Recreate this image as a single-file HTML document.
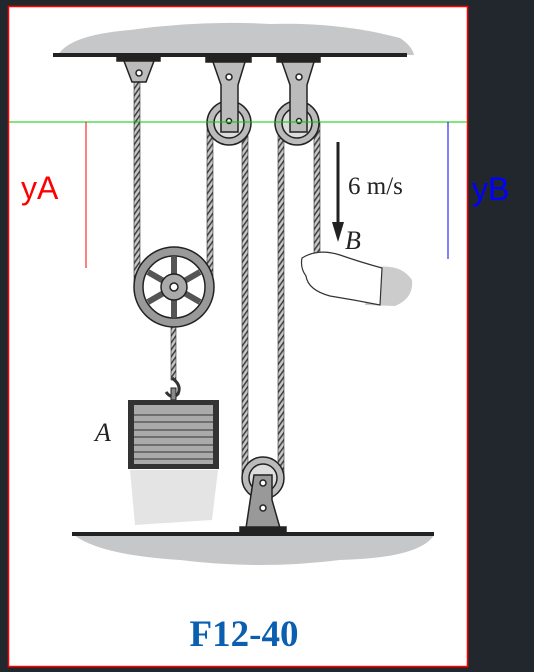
<!DOCTYPE html>
<html><head><meta charset="utf-8"><style>
html,body{margin:0;padding:0;background:#22272e;width:534px;height:672px;overflow:hidden}
svg{display:block}
</style></head><body>
<svg width="534" height="672" viewBox="0 0 534 672">
<defs>
<pattern id="rope" width="4" height="4" patternUnits="userSpaceOnUse" patternTransform="rotate(35)">
<rect width="4" height="4" fill="#c8c8c8"/><rect width="1.6" height="4" fill="#444"/></pattern>
</defs>
<rect x="0" y="0" width="534" height="672" fill="#22272e"/>
<rect x="8.5" y="6.5" width="459" height="660" fill="#fff" stroke="#f00" stroke-width="1.5"/>
<path d="M58 55 Q70 35 130 30 Q200 20 270 24 Q340 22 400 38 Q412 46 414 55 Z" fill="#c6c7c9"/>
<rect x="53" y="53" width="354" height="4" fill="#222"/>
<path d="M74 535 L434 535 Q420 558 340 560 Q260 570 180 560 Q100 555 74 535 Z" fill="#c6c7c9"/>
<rect x="72" y="532" width="362" height="4" fill="#222"/>
<g stroke="#333" stroke-width="0.6">
<rect x="134" y="80" width="6" height="205" fill="url(#rope)"/>
<rect x="207" y="122" width="6" height="165" fill="url(#rope)"/>
<rect x="242" y="122" width="6" height="356" fill="url(#rope)"/>
<rect x="278" y="122" width="6" height="356" fill="url(#rope)"/>
<rect x="314" y="122" width="6" height="136" fill="url(#rope)"/>
<rect x="171" y="290" width="5" height="90" fill="url(#rope)"/>
</g>
<g stroke="#222" stroke-width="1.5">
<rect x="117" y="57" width="43" height="4" fill="#222"/>
<path d="M124 61 L154 61 L146 82 L132 82 Z" fill="#bbb"/>
<circle cx="139" cy="73" r="3" fill="#fff"/>
</g>
<g stroke="#222" stroke-width="1.5">
<rect x="206" y="57" width="45" height="5" fill="#222"/>
<circle cx="229" cy="123" r="22" fill="#bbb"/><circle cx="229" cy="123" r="15" fill="#ddd"/>
<path d="M213 62 L245 62 L238 85 L238 132 L221 132 L221 85 Z" fill="#bbb"/>
<circle cx="229" cy="77" r="3" fill="#fff"/><circle cx="229" cy="121" r="2.5" fill="#fff"/>
</g>
<g stroke="#222" stroke-width="1.5">
<rect x="277" y="57" width="43" height="5" fill="#222"/>
<circle cx="297" cy="123" r="22" fill="#bbb"/><circle cx="297" cy="123" r="15" fill="#ddd"/>
<path d="M282 62 L314 62 L307 85 L307 132 L290 132 L290 85 Z" fill="#bbb"/>
<circle cx="299" cy="77" r="3" fill="#fff"/><circle cx="299" cy="121" r="2.5" fill="#fff"/>
</g>
<g stroke="#222" stroke-width="1.5">
<circle cx="174" cy="287" r="40" fill="#999"/>
<circle cx="174" cy="287" r="31" fill="#fff"/>
<g stroke="#555" stroke-width="6">
<line x1="174" y1="287" x2="174" y2="257"/><line x1="174" y1="287" x2="200" y2="272"/><line x1="174" y1="287" x2="200" y2="302"/>
<line x1="174" y1="287" x2="174" y2="317"/><line x1="174" y1="287" x2="148" y2="302"/><line x1="174" y1="287" x2="148" y2="272"/>
</g>
<circle cx="174" cy="287" r="13" fill="#aaa"/><circle cx="174" cy="287" r="4" fill="#fff"/>
</g>
<path d="M172 378 Q182 385 178 394 Q172 400 166 392" fill="none" stroke="#333" stroke-width="3"/>
<rect x="171" y="388" width="5" height="12" fill="#888" stroke="#222"/>
<path d="M130 470 L218 470 L212 520 L135 525 Z" fill="#e4e4e4"/>
<g>
<rect x="128" y="400" width="91" height="69" fill="#333"/>
<rect x="134" y="405" width="79" height="59" fill="#aaa"/>
<g stroke="#333" stroke-width="1">
<line x1="134" y1="415" x2="213" y2="415"/><line x1="134" y1="422" x2="213" y2="422"/><line x1="134" y1="430" x2="213" y2="430"/>
<line x1="134" y1="437" x2="213" y2="437"/><line x1="134" y1="445" x2="213" y2="445"/><line x1="134" y1="452" x2="213" y2="452"/><line x1="134" y1="459" x2="213" y2="459"/>
</g></g>
<text x="95" y="441" font-family="Liberation Serif, serif" font-style="italic" font-size="26" fill="#222">A</text>
<g stroke="#222" stroke-width="1.5">
<circle cx="263" cy="478" r="21" fill="#bbb"/><circle cx="263" cy="478" r="14" fill="#ddd"/>
<path d="M254 475 L272 475 L272 500 L280 528 L246 528 Z" fill="#999"/>
<rect x="240" y="527" width="46" height="6" fill="#222"/>
<circle cx="263" cy="483" r="3" fill="#fff"/><circle cx="263" cy="508" r="3" fill="#fff"/>
</g>
<g stroke="#333" stroke-width="1.2">
<path d="M370 268 Q400 262 412 280 Q414 298 395 306 L365 305 Z" fill="#ccc" stroke="none"/>
<path d="M302 258 Q318 248 340 255 Q360 262 382 268 L380 305 Q355 300 330 296 Q308 290 306 276 Q300 268 302 258 Z" fill="#fff"/>
</g>
<g>
<line x1="338" y1="142" x2="338" y2="228" stroke="#222" stroke-width="3"/>
<path d="M332 222 L344 222 L338 242 Z" fill="#222"/>
</g>
<text x="348" y="194" font-family="Liberation Serif, serif" font-size="25" fill="#222">6 m/s</text>
<text x="345" y="249" font-family="Liberation Serif, serif" font-style="italic" font-size="26" fill="#222">B</text>
<line x1="9" y1="122" x2="467" y2="122" stroke="#0c0" stroke-width="1"/>
<line x1="86" y1="122" x2="86" y2="268" stroke="#f00" stroke-width="1"/>
<line x1="448" y1="122" x2="448" y2="259" stroke="#00f" stroke-width="1"/>
<text x="21" y="199" font-family="Liberation Sans, sans-serif" font-size="32" fill="#f00">yA</text>
<text x="472" y="200" font-family="Liberation Sans, sans-serif" font-size="32" fill="#00f">yB</text>
<text x="244" y="646" text-anchor="middle" font-family="Liberation Serif, serif" font-weight="bold" font-size="37" fill="#0a5fb0">F12-40</text>
</svg>
</body></html>
